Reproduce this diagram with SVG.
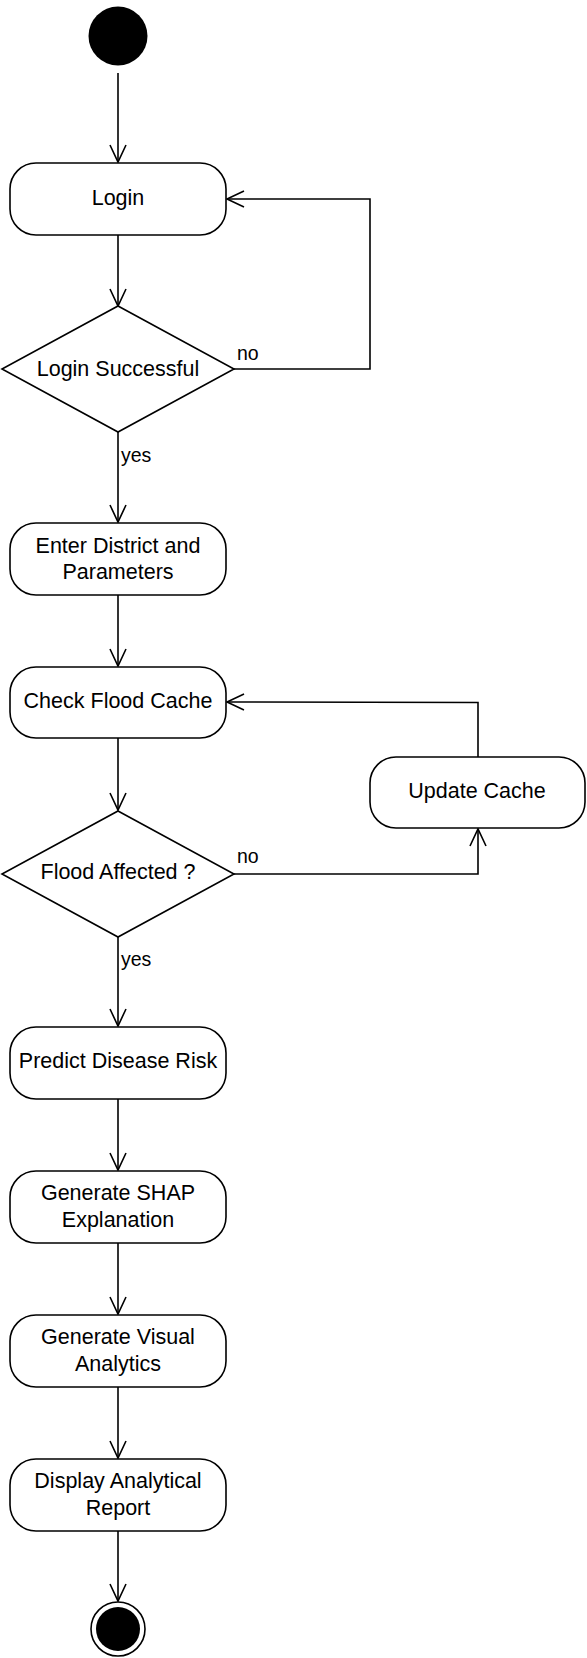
<svg xmlns="http://www.w3.org/2000/svg" width="587" height="1658" viewBox="0 0 587 1658">
<style>
.box{fill:#fff;stroke:#000;stroke-width:1.6}
.t{font-family:"Liberation Sans",Arial,sans-serif;font-size:21.5px;fill:#000;text-anchor:middle}
.l{font-family:"Liberation Sans",Arial,sans-serif;font-size:19.5px;fill:#000}
.e{fill:none;stroke:#000;stroke-width:1.6}
</style>
<defs>
<marker id="a" markerUnits="userSpaceOnUse" markerWidth="24" markerHeight="24" viewBox="-20 -12 24 24" refX="0" refY="0" orient="auto" overflow="visible">
<path d="M-17,-8 L0,0 L-17,8" fill="none" stroke="#000" stroke-width="1.6"/>
</marker>
</defs>
<rect width="587" height="1658" fill="#fff"/>
<g id="connectors">
<path class="e" d="M118,73 L118,162" marker-end="url(#a)"/>
<path class="e" d="M118,235 L118,306" marker-end="url(#a)"/>
<path class="e" d="M234,369 L370,369 L370,199 L227,199" marker-end="url(#a)"/>
<path class="e" d="M118,432 L118,522" marker-end="url(#a)"/>
<path class="e" d="M118,595 L118,666" marker-end="url(#a)"/>
<path class="e" d="M118,738 L118,810" marker-end="url(#a)"/>
<path class="e" d="M234,874 L478,874 L478,829" marker-end="url(#a)"/>
<path class="e" d="M478,757 L478,702.5 L227,702" marker-end="url(#a)"/>
<path class="e" d="M118,937 L118,1026" marker-end="url(#a)"/>
<path class="e" d="M118,1099 L118,1170" marker-end="url(#a)"/>
<path class="e" d="M118,1243 L118,1314" marker-end="url(#a)"/>
<path class="e" d="M118,1387 L118,1458" marker-end="url(#a)"/>
<path class="e" d="M118,1531 L118,1601" marker-end="url(#a)"/>
<text class="l" x="237" y="360">no</text>
<text class="l" x="121" y="462">yes</text>
<text class="l" x="237" y="863">no</text>
<text class="l" x="121" y="966">yes</text>
</g>
<g id="start"><circle cx="118" cy="36" r="29.5" fill="#000"/></g>
<g id="login"><rect class="box" x="10" y="163" width="216" height="72" rx="26"/><text class="t" x="118" y="205">Login</text></g>
<g id="loginSuccessful"><path class="box" d="M118,306 L234,369 L118,432 L2,369 Z"/><text class="t" x="118" y="376">Login Successful</text></g>
<g id="enterDistrict"><rect class="box" x="10" y="523" width="216" height="72" rx="26"/><text class="t" x="118" y="553">Enter District and</text><text class="t" x="118" y="579">Parameters</text></g>
<g id="checkCache"><rect class="box" x="10" y="667" width="216" height="71" rx="26"/><text class="t" x="118" y="708">Check Flood Cache</text></g>
<g id="floodAffected"><path class="box" d="M118,811 L234,874 L118,937 L2,874 Z"/><text class="t" x="118" y="879">Flood Affected ?</text></g>
<g id="updateCache"><rect class="box" x="370" y="757" width="215" height="71" rx="26"/><text class="t" x="477" y="798">Update Cache</text></g>
<g id="predict"><rect class="box" x="10" y="1027" width="216" height="72" rx="26"/><text class="t" x="118" y="1068">Predict Disease Risk</text></g>
<g id="shap"><rect class="box" x="10" y="1171" width="216" height="72" rx="26"/><text class="t" x="118" y="1200">Generate SHAP</text><text class="t" x="118" y="1227">Explanation</text></g>
<g id="visual"><rect class="box" x="10" y="1315" width="216" height="72" rx="26"/><text class="t" x="118" y="1344">Generate Visual</text><text class="t" x="118" y="1371">Analytics</text></g>
<g id="display"><rect class="box" x="10" y="1459" width="216" height="72" rx="26"/><text class="t" x="118" y="1488">Display Analytical</text><text class="t" x="118" y="1515">Report</text></g>
<g id="end"><circle cx="118" cy="1629" r="27" fill="#fff" stroke="#000" stroke-width="1.6"/><circle cx="118" cy="1629" r="22" fill="#000"/></g>
</svg>
